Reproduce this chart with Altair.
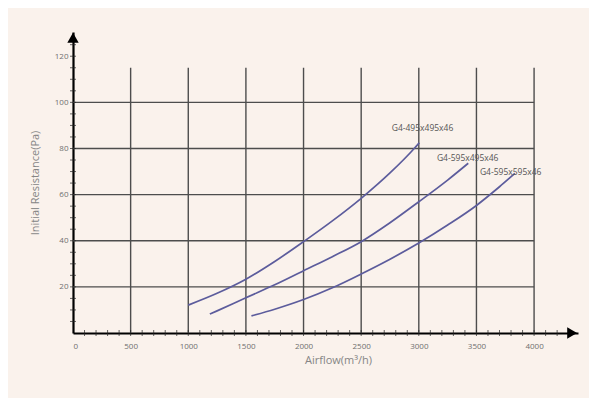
import altair as alt
import pandas as pd

# ---- data ----
c1_x = [1000, 1250, 1500, 1750, 2000, 2250, 2500, 2750, 2960, 3004]
c1_y = [12.1, 17.2, 23.3, 31.0, 39.6, 48.6, 58.4, 69.4, 80.0, 82.5]
c2_x = [1187, 1250, 1500, 1750, 2000, 2250, 2500, 2750, 3000, 3250, 3429]
c2_y = [8.2, 9.6, 15.3, 20.9, 27.0, 33.1, 39.6, 47.8, 56.9, 66.3, 73.6]
c3_x = [1548, 1750, 2000, 2250, 2500, 2750, 3000, 3250, 3500, 3700, 3834]
c3_y = [7.4, 10.3, 14.5, 19.6, 25.6, 32.0, 39.0, 46.8, 55.3, 63.4, 69.2]
series_names = ["G4-495x495x46", "G4-595x495x46", "G4-595x595x46"]
label_x = [2765, 3157, 3530]
label_y = [89, 76, 70]

x_ticks = [0, 500, 1000, 1500, 2000, 2500, 3000, 3500, 4000]
y_ticks = [20, 40, 60, 80, 100, 120]
v_grid = [500, 1000, 1500, 2000, 2500, 3000, 3500, 4000]
h_grid = [20, 40, 60, 80, 100]
grid_top = 115
grid_right = 4000
x_minor = list(range(100, 4300, 100))
y_minor = list(range(5, 130, 5))
x_max = 4381
y_max = 130.5
arrow_x = [0, 4330]
arrow_y = [128, 0]
arrow_shape = ["triangle-up", "triangle-right"]

rows = []
for name, xs_, ys_ in zip(series_names, [c1_x, c2_x, c3_x], [c1_y, c2_y, c3_y]):
    for a, b in zip(xs_, ys_):
        rows.append({"series": name, "x": a, "y": b})
curves = pd.DataFrame(rows)

FONT = "Open Sans"
xs = alt.Scale(domain=[0, x_max], nice=False, zero=False)
ys = alt.Scale(domain=[0, y_max], nice=False, zero=False)

vgrid = alt.Chart(pd.DataFrame({"x": v_grid, "y0": 0, "y1": grid_top})).mark_rule(
    color="#4d4d4d", strokeWidth=1.4
).encode(x=alt.X("x:Q", scale=xs), y=alt.Y("y0:Q", scale=ys), y2="y1:Q")

hgrid = alt.Chart(pd.DataFrame({"y": h_grid, "x0": 0, "x1": grid_right})).mark_rule(
    color="#4d4d4d", strokeWidth=1.4
).encode(y=alt.Y("y:Q", scale=ys), x=alt.X("x0:Q", scale=xs), x2="x1:Q")

xminor = alt.Chart(pd.DataFrame({"x": x_minor, "y": 0})).mark_tick(
    orient="vertical", size=6, thickness=1, color="#222"
).encode(x=alt.X("x:Q", scale=xs), y=alt.Y("y:Q", scale=ys))

yminor = alt.Chart(pd.DataFrame({"y": y_minor, "x": 0})).mark_tick(
    orient="horizontal", size=6, thickness=1, color="#222"
).encode(x=alt.X("x:Q", scale=xs), y=alt.Y("y:Q", scale=ys))

lines = alt.Chart(curves).mark_line(
    color="#5c5c9c", strokeWidth=1.7, interpolate="monotone"
).encode(
    x=alt.X("x:Q", scale=xs,
            axis=alt.Axis(values=x_ticks, format="d", title="Airflow(m³/h)", grid=False, ticks=False,
                          domainColor="#000", domainWidth=2.2, labelColor="#6f6f6f",
                          labelFontSize=8, labelFont=FONT, labelPadding=9,
                          titleFont=FONT, titleFontSize=11, titleFontWeight="normal",
                          titleColor="#858585", titlePadding=4, titleX=265)),
    y=alt.Y("y:Q", scale=ys,
            axis=alt.Axis(values=y_ticks, format="d", title="Initial Resistance(Pa)", grid=False, ticks=False,
                          domainColor="#000", domainWidth=2.2, labelColor="#6f6f6f",
                          labelFontSize=8, labelFont=FONT, labelPadding=5,
                          titleFont=FONT, titleFontSize=11, titleFontWeight="normal",
                          titleColor="#858585", titlePadding=14)),
    detail="series:N",
)

labels = alt.Chart(pd.DataFrame({"x": label_x, "y": label_y, "t": series_names})).mark_text(
    align="left", baseline="middle", fontSize=8.5, font=FONT, color="#555"
).encode(x=alt.X("x:Q", scale=xs), y=alt.Y("y:Q", scale=ys), text="t:N")

arrows = alt.Chart(pd.DataFrame({"x": arrow_x, "y": arrow_y, "s": arrow_shape})).mark_point(
    filled=True, color="#000", size=130, opacity=1
).encode(x=alt.X("x:Q", scale=xs), y=alt.Y("y:Q", scale=ys),
         shape=alt.Shape("s:N", scale=None))

chart = alt.layer(vgrid, hgrid, lines, xminor, yminor, labels, arrows).properties(
    width=505, height=301,
    autosize="none",
    padding={"left": 65, "top": 24, "right": 11, "bottom": 65},
    background="#faf2ec",
).configure_view(stroke=None)

chart.save("out.html", embed_options={"renderer": "svg", "actions": False})
